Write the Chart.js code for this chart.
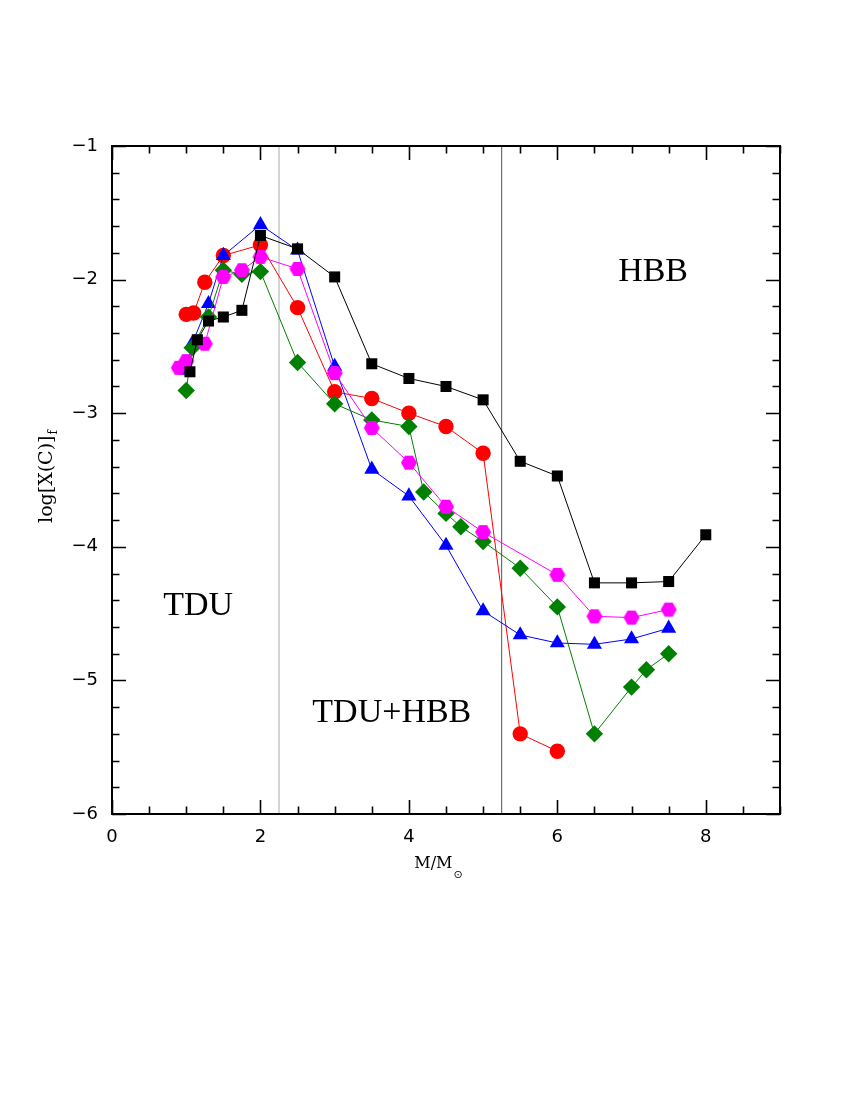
<!DOCTYPE html>
<html>
<head>
<meta charset="utf-8">
<script src="https://cdn.jsdelivr.net/npm/chart.js@4.4.1/dist/chart.umd.min.js"></script>
<style>
  body { margin: 0; background: #fff; }
  #wrap { width: 850px; height: 1100px; }
</style>
</head>
<body>
<div id="wrap"><canvas id="c" width="850" height="1100"></canvas></div>
<script>
// data: initial mass vs final log X(C)
const massBlack = [1.05, 1.15, 1.3, 1.5, 1.75, 2.0, 2.5, 3.0, 3.5, 4.0, 4.5, 5.0, 5.5, 6.0, 6.5, 7.0, 7.5, 8.0];
const logCBlack = [-2.69, -2.45, -2.31, -2.28, -2.23, -1.67, -1.77, -1.98, -2.63, -2.74, -2.80, -2.90, -3.36, -3.47, -4.27, -4.27, -4.26, -3.91];

const massMagenta = [0.9, 1.0, 1.25, 1.5, 1.75, 2.0, 2.5, 3.0, 3.5, 4.0, 4.5, 5.0, 6.0, 6.5, 7.0, 7.5];
const logCMagenta = [-2.66, -2.61, -2.48, -1.98, -1.93, -1.83, -1.92, -2.70, -3.11, -3.37, -3.70, -3.89, -4.21, -4.52, -4.53, -4.47];

const massGreen = [1.0, 1.08, 1.3, 1.5, 1.75, 2.0, 2.5, 3.0, 3.5, 4.0, 4.2, 4.5, 4.7, 5.0, 5.5, 6.0, 6.5, 7.0, 7.2, 7.5];
const logCGreen = [-2.83, -2.51, -2.28, -1.93, -1.96, -1.94, -2.62, -2.93, -3.05, -3.10, -3.59, -3.75, -3.85, -3.96, -4.16, -4.45, -5.40, -5.05, -4.92, -4.80];

const massBlue = [1.0, 1.08, 1.3, 1.5, 2.0, 2.5, 3.0, 3.5, 4.0, 4.5, 5.0, 5.5, 6.0, 6.5, 7.0, 7.5];
const logCBlue = [-2.68, -2.48, -2.18, -1.82, -1.59, -1.78, -2.65, -3.42, -3.62, -3.99, -4.48, -4.66, -4.72, -4.73, -4.69, -4.61];

const massRed = [1.0, 1.1, 1.25, 1.5, 2.0, 2.5, 3.0, 3.5, 4.0, 4.5, 5.0, 5.5, 6.0];
const logCRed = [-2.26, -2.25, -2.02, -1.82, -1.74, -2.21, -2.84, -2.89, -3.00, -3.10, -3.30, -5.40, -5.53];

// regime boundaries (vertical lines) and region labels
const boundaryMasses = [2.25, 5.25];
const boundaryColors = ['#aaaaaa', '#555555'];
const regionLabels = ['TDU', 'TDU+HBB', 'HBB'];
const regionAt = [[1.16, -4.51], [3.77, -5.31], [7.29, -2.01]];

const xMin = 0, xMax = 9, yMin = -6, yMax = -1;

function pts(xs, ys) {
  return xs.map((x, i) => ({x: x, y: ys[i]}));
}

// hexagon marker (no built-in hexagon in Chart.js)
function hexagon(color, r) {
  const cv = document.createElement('canvas');
  cv.width = Math.ceil(2 * r) + 2;
  cv.height = Math.ceil(Math.sqrt(3) * r) + 2;
  const g = cv.getContext('2d');
  g.fillStyle = color;
  g.beginPath();
  for (let k = 0; k < 6; k++) {
    const a = k * Math.PI / 3;
    const px = cv.width / 2 + r * Math.cos(a);
    const py = cv.height / 2 + r * Math.sin(a);
    if (k === 0) g.moveTo(px, py); else g.lineTo(px, py);
  }
  g.closePath();
  g.fill();
  return cv;
}

function series(xs, ys, color, style, radius) {
  return {
    data: pts(xs, ys),
    borderColor: color,
    backgroundColor: color,
    borderWidth: 1,
    pointStyle: style,
    pointRadius: radius,
    pointBorderWidth: 0,
    pointBackgroundColor: color,
    pointBorderColor: color,
    showLine: true,
    tension: 0
  };
}

const datasets = [
  series(massBlack, logCBlack, '#000000', 'rect', 7.8),
  series(massMagenta, logCMagenta, '#ff00ff', hexagon('#ff00ff', 8), 8),
  series(massGreen, logCGreen, '#008000', 'rectRot', 8.7),
  series(massBlue, logCBlue, '#0000ff', 'triangle', 8.7),
  series(massRed, logCRed, '#ff0000', 'circle', 7.7)
];
boundaryMasses.forEach((m, i) => {
  datasets.push({
    data: [{x: m, y: yMin}, {x: m, y: yMax}],
    borderColor: boundaryColors[i],
    borderWidth: 1,
    pointRadius: 0,
    showLine: true
  });
});

const serif = "'Liberation Serif', 'DejaVu Serif', serif";
const dserif = "'DejaVu Serif', serif";
const sans = "'DejaVu Sans', sans-serif";

const framePlugin = {
  id: 'frame',
  afterDraw(chart) {
    const ctx = chart.ctx;
    const a = chart.chartArea;
    const xs = chart.scales.x, ys = chart.scales.y;
    ctx.save();
    ctx.strokeStyle = '#000';
    ctx.lineWidth = 2;
    ctx.strokeRect(a.left, a.top, a.right - a.left, a.bottom - a.top);

    // inward ticks on all four sides
    ctx.lineWidth = 1.6;
    ctx.beginPath();
    for (let v = xMin; v <= xMax + 1e-9; v += 0.5) {
      const len = Math.abs(v % 2) < 1e-6 ? 14 : 7.5;
      const px = Math.round(xs.getPixelForValue(v)) + 0.5;
      ctx.moveTo(px, a.bottom); ctx.lineTo(px, a.bottom - len);
      ctx.moveTo(px, a.top); ctx.lineTo(px, a.top + len);
    }
    for (let k = 0; k <= 25; k++) {
      const v = yMin + k * 0.2;
      const len = k % 5 === 0 ? 14 : 7.5;
      const py = Math.round(ys.getPixelForValue(v)) + 0.5;
      ctx.moveTo(a.left, py); ctx.lineTo(a.left + len, py);
      ctx.moveTo(a.right, py); ctx.lineTo(a.right - len, py);
    }
    ctx.stroke();

    // region labels
    ctx.fillStyle = '#000';
    ctx.font = '34px ' + serif;
    ctx.textAlign = 'center';
    ctx.textBaseline = 'alphabetic';
    regionLabels.forEach((t, i) => {
      ctx.fillText(t, xs.getPixelForValue(regionAt[i][0]), ys.getPixelForValue(regionAt[i][1]));
    });

    // x title: M/M_sun
    ctx.textAlign = 'left';
    ctx.font = '16px ' + dserif;
    const main = 'M/M';
    const wMain = ctx.measureText(main).width;
    ctx.font = '11px ' + sans;
    const sub = '\u2299';
    const wSub = ctx.measureText(sub).width;
    const x0 = 438 - (wMain + wSub) / 2;
    ctx.font = '16px ' + dserif;
    ctx.fillText(main, x0, 868);
    ctx.font = '11px ' + sans;
    ctx.fillText(sub, x0 + wMain + 1, 878);

    // y title: log[X(C)]_f
    ctx.translate(52, 477);
    ctx.rotate(-Math.PI / 2);
    ctx.font = '19px ' + dserif;
    const yMain = 'log[X(C)]';
    const wy = ctx.measureText(yMain).width;
    ctx.font = '12px ' + dserif;
    const wf = ctx.measureText('f').width;
    const y0 = -(wy + wf) / 2;
    ctx.font = '19px ' + dserif;
    ctx.fillText(yMain, y0, 0);
    ctx.font = '12px ' + dserif;
    ctx.fillText('f', y0 + wy + 1, 5);
    ctx.restore();
  }
};

new Chart(document.getElementById('c'), {
  type: 'scatter',
  data: {datasets: datasets},
  options: {
    responsive: false,
    animation: false,
    layout: {padding: {top: 146, right: 70, left: 0, bottom: 0}},
    plugins: {legend: {display: false}, tooltip: {enabled: false}},
    scales: {
      x: {
        type: 'linear', min: xMin, max: xMax,
        grid: {display: false, drawTicks: false},
        border: {display: false},
        afterFit: s => { s.height = 1100 - 814; },
        ticks: {
          stepSize: 2, includeBounds: false, padding: 13,
          color: '#000', font: {family: sans, size: 18},
          maxRotation: 0
        }
      },
      y: {
        type: 'linear', min: yMin, max: yMax,
        grid: {display: false, drawTicks: false},
        border: {display: false},
        afterFit: s => { s.width = 112; },
        ticks: {
          stepSize: 1, padding: 14,
          color: '#000', font: {family: sans, size: 18},
          callback: v => '\u2212' + Math.abs(v)
        }
      }
    }
  },
  plugins: [framePlugin]
});
</script>
</body>
</html>
